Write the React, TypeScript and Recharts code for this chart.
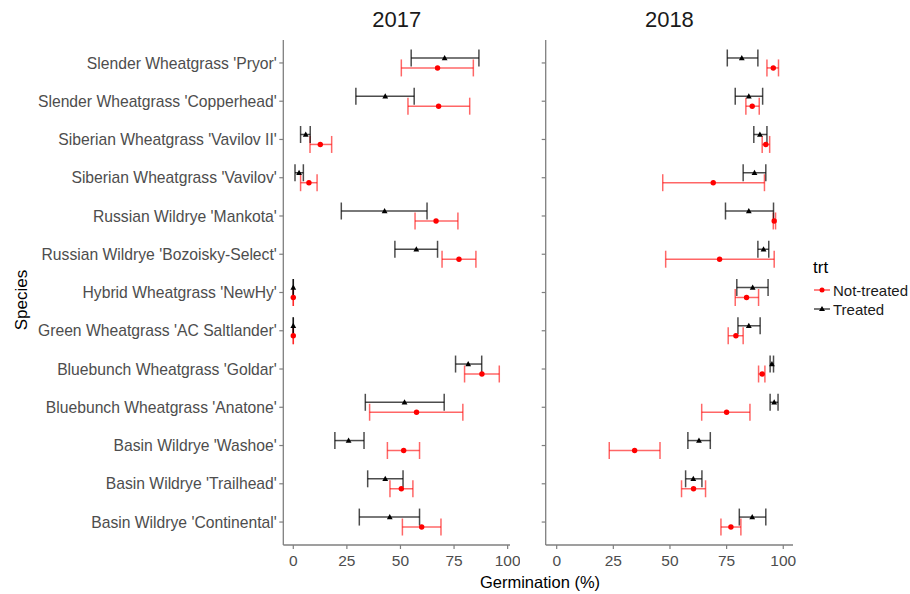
import React from 'react';
import { ScatterChart, Scatter, XAxis, YAxis, ErrorBar } from 'recharts';

const species = [
  "Slender Wheatgrass 'Pryor'",
  "Slender Wheatgrass 'Copperhead'",
  "Siberian Wheatgrass 'Vavilov II'",
  "Siberian Wheatgrass 'Vavilov'",
  "Russian Wildrye 'Mankota'",
  "Russian Wildrye 'Bozoisky-Select'",
  "Hybrid Wheatgrass 'NewHy'",
  "Green Wheatgrass 'AC Saltlander'",
  "Bluebunch Wheatgrass 'Goldar'",
  "Bluebunch Wheatgrass 'Anatone'",
  "Basin Wildrye 'Washoe'",
  "Basin Wildrye 'Trailhead'",
  "Basin Wildrye 'Continental'",
];

const xTicks = [0, 25, 50, 75, 100];

// 2017
const treated2017Mean = [70.6, 42.9, 5.8, 2.7, 42.6, 57.4, 0, 0, 81.6, 51.9, 25.8, 42.9, 45.0];
const treated2017Low = [55.0, 29.2, 3.4, 0.8, 22.4, 47.4, 0, 0, 75.7, 33.6, 19.4, 34.7, 30.8];
const treated2017High = [86.6, 56.4, 7.9, 4.7, 62.4, 67.3, 0, 0, 87.9, 70.4, 33.0, 51.2, 58.9];
const notTreated2017Mean = [67.3, 67.8, 12.6, 7.3, 66.6, 77.3, 0, 0, 88.0, 57.5, 51.5, 50.4, 59.9];
const notTreated2017Low = [50.4, 53.5, 7.8, 3.4, 56.8, 69.4, 0, 0, 79.9, 35.6, 43.9, 45.1, 50.9];
const notTreated2017High = [84.0, 82.3, 17.9, 11.1, 76.8, 85.2, 0, 0, 96.1, 79.1, 58.9, 55.8, 68.9];

// 2018
const treated2018Mean = [81.7, 84.8, 89.7, 87.3, 84.8, 91.3, 86.5, 84.8, 95.0, 96.0, 62.8, 60.3, 86.3];
const treated2018Low = [75.3, 78.8, 87.0, 82.3, 74.5, 88.8, 79.5, 80.0, 94.2, 94.2, 57.9, 56.9, 80.6];
const treated2018High = [88.8, 90.9, 92.8, 92.3, 95.7, 93.6, 93.3, 89.8, 95.7, 97.7, 67.8, 64.1, 92.3];
const notTreated2018Mean = [95.6, 86.3, 92.3, 69.1, 96.0, 71.9, 83.8, 79.1, 90.7, 75.0, 34.4, 60.4, 76.9];
const notTreated2018Low = [92.8, 83.5, 90.7, 46.8, 95.6, 48.1, 78.8, 75.7, 89.1, 64.0, 23.2, 55.1, 72.5];
const notTreated2018High = [97.9, 89.4, 94.0, 91.7, 96.6, 96.0, 89.1, 82.3, 91.9, 85.3, 45.6, 65.7, 81.3];

const DODGE = 0.13;
const FONT = "'Liberation Sans', Arial, sans-serif";
const RED = '#ff0000';
const AXIS_GREY = '#7f7f7f';

function buildRows(mean: number[], lo: number[], hi: number[], shift: number) {
  const n = species.length;
  return species.map((s, i) => ({
    name: s,
    y: n - i + shift,
    x: mean[i],
    err: [mean[i] - lo[i], hi[i] - mean[i]],
  }));
}

const yTicks = species.map((_, i) => species.length - i);
const labelFor = (v: number) => species[species.length - Math.round(v)] ?? '';

const Triangle = (props: any) => {
  const { cx, cy } = props;
  if (cx == null || cy == null) return <g />;
  const s = 2.9;
  return (
    <polygon
      points={`${cx},${cy - s * 1.05} ${cx - s},${cy + s * 0.75} ${cx + s},${cy + s * 0.75}`}
      fill="#000"
    />
  );
};

const Dot = (props: any) => {
  const { cx, cy } = props;
  if (cx == null || cy == null) return <g />;
  return <circle cx={cx} cy={cy} r={2.7} fill={RED} />;
};

const LegendBox = () => (
  <svg width={100} height={64} style={{ overflow: 'visible', display: 'block' }}>
    <text x={0} y={17} fontSize={17} fontFamily={FONT} fill="#000">trt</text>
    <line x1={1} x2={17} y1={34} y2={34} stroke={RED} strokeOpacity={0.65} strokeWidth={1.5} />
    <circle cx={9} cy={34} r={2.5} fill={RED} />
    <text x={20} y={39.5} fontSize={15} fontFamily={FONT} fill="#1a1a1a">Not-treated</text>
    <line x1={1} x2={17} y1={53} y2={53} stroke="#000" strokeOpacity={0.7} strokeWidth={1.5} />
    <polygon points="9,50 6,55 12,55" fill="#000" />
    <text x={20} y={58.5} fontSize={15} fontFamily={FONT} fill="#1a1a1a">Treated</text>
  </svg>
);

type PanelProps = {
  left: number;
  width: number;
  yAxisWidth: number;
  rightMargin: number;
  domain: [number, number];
  treated: any[];
  notTreated: any[];
  showLabels: boolean;
};

const Panel = (p: PanelProps) => (
  <div style={{ position: 'absolute', left: p.left, top: 0 }}>
    <ScatterChart
      width={p.width}
      height={594}
      margin={{ top: 40, right: p.rightMargin, bottom: 19, left: 0 }}
    >
      <XAxis
        type="number"
        dataKey="x"
        domain={p.domain}
        allowDataOverflow
        ticks={xTicks}
        height={30}
        tickSize={4}
        tickMargin={6}
        axisLine={{ stroke: AXIS_GREY, strokeWidth: 1.3 }}
        tickLine={{ stroke: AXIS_GREY, strokeWidth: 1.2 }}
        tick={{ fill: '#4d4d4d', fontSize: 15.5, fontFamily: FONT }}
      />
      <YAxis
        type="number"
        dataKey="y"
        domain={[0.4, 13.6]}
        allowDataOverflow
        ticks={yTicks}
        interval={0}
        width={p.yAxisWidth}
        tickSize={4}
        tickMargin={2.5}
        tickFormatter={labelFor}
        axisLine={{ stroke: AXIS_GREY, strokeWidth: 1.3 }}
        tickLine={{ stroke: AXIS_GREY, strokeWidth: 1.2 }}
        tick={p.showLabels ? { fill: '#4d4d4d', fontSize: 15.7, fontFamily: FONT } : () => <g />}
      />
      <Scatter name="Not-treated" data={p.notTreated} shape={Dot} isAnimationActive={false}>
        <ErrorBar
          dataKey="err"
          direction="x"
          width={8.5}
          stroke={RED}
          strokeOpacity={0.6}
          strokeWidth={1.5}
          isAnimationActive={false}
        />
      </Scatter>
      <Scatter name="Treated" data={p.treated} shape={Triangle} isAnimationActive={false}>
        <ErrorBar
          dataKey="err"
          direction="x"
          width={8.5}
          stroke="#000"
          strokeOpacity={0.7}
          strokeWidth={1.5}
          isAnimationActive={false}
        />
      </Scatter>
    </ScatterChart>
  </div>
);

export default function App() {
  const t17 = buildRows(treated2017Mean, treated2017Low, treated2017High, DODGE);
  const n17 = buildRows(notTreated2017Mean, notTreated2017Low, notTreated2017High, -DODGE);
  const t18 = buildRows(treated2018Mean, treated2018Low, treated2018High, DODGE);
  const n18 = buildRows(notTreated2018Mean, notTreated2018Low, notTreated2018High, -DODGE);

  return (
    <div style={{ position: 'absolute', left: 0, top: 0, width: 910, height: 594, background: '#fff', fontFamily: FONT }}>
      <Panel
        left={0}
        width={520}
        yAxisWidth={283.3}
        rightMargin={10}
        domain={[-4.66, 101.1]}
        treated={t17}
        notTreated={n17}
        showLabels
      />
      <Panel
        left={530}
        width={380}
        yAxisWidth={15.7}
        rightMargin={117}
        domain={[-4.85, 104.3]}
        treated={t18}
        notTreated={n18}
        showLabels={false}
      />
      <div style={{ position: 'absolute', left: 813, top: 256 }}>
        <LegendBox />
      </div>
      <div style={{ position: 'absolute', left: 296.7, top: 6, width: 200, textAlign: 'center', fontSize: 22, color: '#1a1a1a', lineHeight: '28px' }}>2017</div>
      <div style={{ position: 'absolute', left: 569.4, top: 6, width: 200, textAlign: 'center', fontSize: 22, color: '#1a1a1a', lineHeight: '28px' }}>2018</div>
      <div style={{ position: 'absolute', left: 440, top: 571, width: 200, textAlign: 'center', fontSize: 16.5, color: '#000', lineHeight: '22px' }}>Germination (%)</div>
      <div style={{ position: 'absolute', left: 22, top: 300, width: 0, height: 0 }}>
        <div style={{ position: 'absolute', left: -60, top: -11, width: 120, textAlign: 'center', fontSize: 17, color: '#000', lineHeight: '22px', transform: 'rotate(-90deg)' }}>Species</div>
      </div>
    </div>
  );
}
